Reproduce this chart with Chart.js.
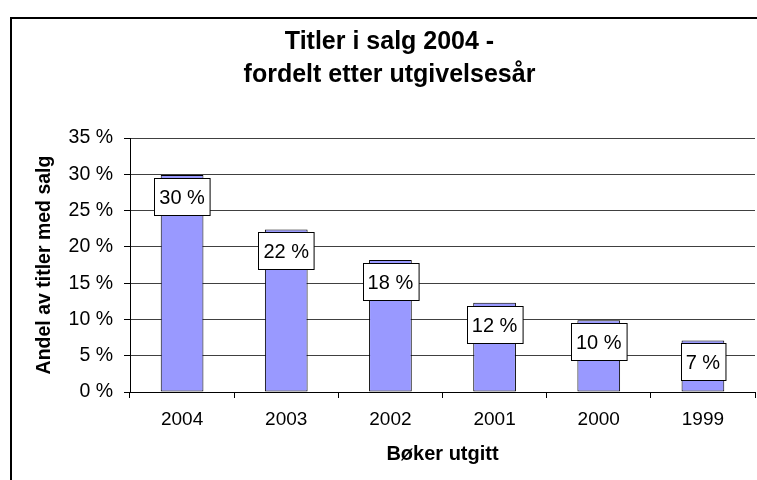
<!DOCTYPE html>
<html>
<head>
<meta charset="utf-8">
<script src="https://cdn.jsdelivr.net/npm/chart.js@4"></script>
<style>
  html, body { margin: 0; padding: 0; background: #fff; overflow: hidden; }
  #wrap { position: relative; width: 757px; height: 480px; }
  #frame { position: absolute; left: 10px; top: 17px; width: 800px; height: 520px; border: 2px solid #000; box-sizing: border-box; }
  canvas { position: absolute; left: 0; top: 0; }
</style>
</head>
<body>
<div id="wrap">
  <div id="frame"></div>
  <canvas id="chart" width="757" height="480"></canvas>
</div>
<script>
// Data
const years = ['2004', '2003', '2002', '2001', '2000', '1999'];
const shares = [29.9, 22.4, 18.2, 12.3, 9.9, 7.1];
const labelsShown = ['30 %', '22 %', '18 %', '12 %', '10 %', '7 %'];
const yTicks = [0, 5, 10, 15, 20, 25, 30, 35];

Chart.defaults.font.family = "'Liberation Sans', Arial, sans-serif";
Chart.defaults.color = '#000';

// Datalabels in white boxes (Excel style)
const boxLabels = {
  id: 'boxLabels',
  afterDatasetsDraw(chart) {
    const ctx = chart.ctx;
    const meta = chart.getDatasetMeta(0);
    ctx.save();
    ctx.font = "20px 'Liberation Sans', Arial, sans-serif";
    ctx.textAlign = 'center';
    ctx.textBaseline = 'middle';
    meta.data.forEach((bar, i) => {
      const txt = labelsShown[i];
      const w = ctx.measureText(txt).width + 10;
      const h = 37;
      const x = Math.round(bar.x - w / 2) + 0.5;
      const y = Math.round(bar.y + 3) + 0.5;
      ctx.fillStyle = '#fff';
      ctx.fillRect(x, y, w, h);
      ctx.strokeStyle = '#000';
      ctx.lineWidth = 1;
      ctx.strokeRect(x, y, w, h);
      ctx.fillStyle = '#000';
      ctx.fillText(txt, bar.x, y + h / 2 + 1);
    });
    ctx.restore();
  }
};

const ctx = document.getElementById('chart').getContext('2d');
const chart = new Chart(ctx, {
  type: 'bar',
  data: {
    labels: years,
    datasets: [{
      data: shares,
      backgroundColor: '#9999FF',
      borderColor: '#000',
      borderWidth: 1,
      borderSkipped: false,
      categoryPercentage: 1,
      barPercentage: 0.41
    }]
  },
  options: {
    responsive: false,
    animation: false,
    layout: { padding: { left: 24, top: 17, right: 2, bottom: 0 } },
    plugins: {
      legend: { display: false },
      tooltip: { enabled: false },
      title: {
        display: true,
        text: ['Titler i salg 2004 -', 'fordelt etter utgivelsesår'],
        font: { size: 25, weight: 'bold', lineHeight: 1.32 },
        color: '#000',
        padding: { top: 8.5, bottom: 46.5 }
      }
    },
    scales: {
      x: {
        afterFit: (s) => { s.height = 88; },
        grid: { offset: true, drawOnChartArea: false, drawTicks: true, tickLength: 6, color: '#000' },
        border: { display: true, color: '#000', width: 1 },
        ticks: { font: { size: 19 }, padding: 10.5, color: '#000' },
        title: {
          display: true,
          text: 'Bøker utgitt',
          font: { size: 20, weight: 'bold' },
          color: '#000',
          padding: { top: 0, bottom: 14 }
        }
      },
      y: {
        min: 0,
        max: 35,
        afterFit: (s) => { s.width = 106; },
        afterBuildTicks: (s) => { s.ticks = yTicks.map(v => ({ value: v })); },
        grid: { color: '#404040', tickColor: '#000', drawTicks: true, tickLength: 6 },
        border: { display: true, color: '#000', width: 1 },
        ticks: {
          font: { size: 19.5 },
          padding: 11,
          color: '#000',
          callback: (v) => v + ' %'
        },
        title: {
          display: true,
          text: 'Andel av titler med salg',
          font: { size: 19.5, weight: 'bold' },
          color: '#000',
          padding: { top: 9, bottom: 0 }
        }
      }
    }
  },
  plugins: [boxLabels]
});
</script>
</body>
</html>
